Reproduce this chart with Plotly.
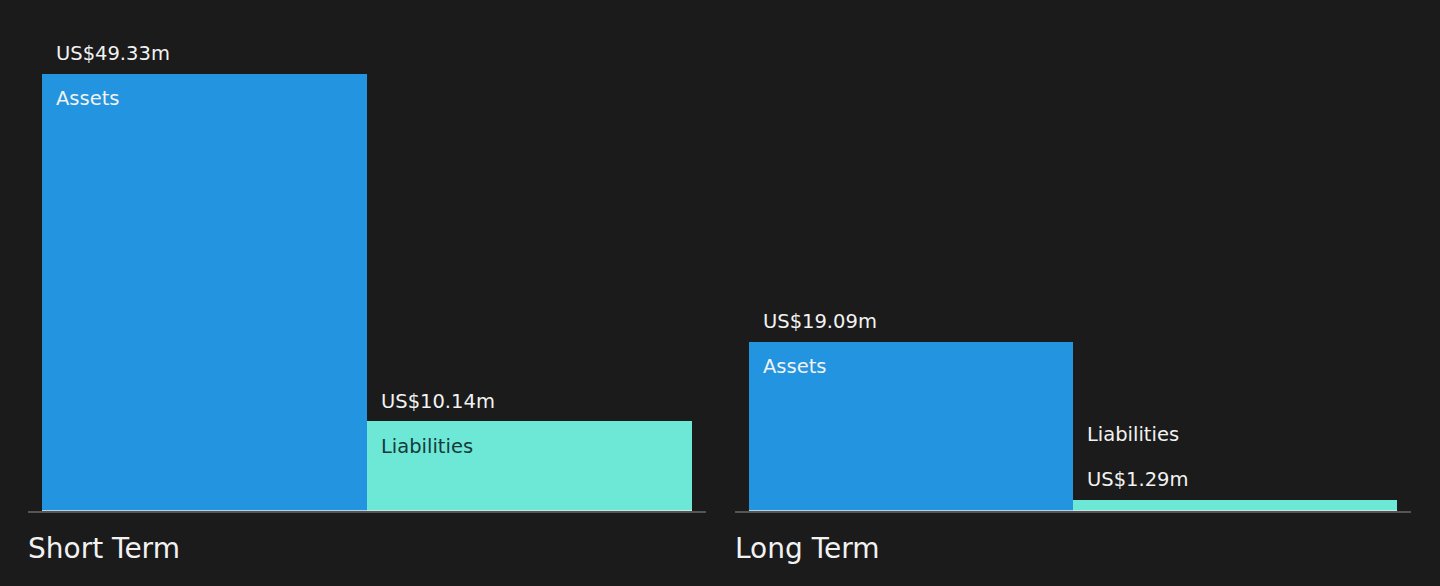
import plotly.graph_objects as go

groups = ["Short Term", "Long Term"]
series = ["Assets", "Liabilities"]
assets = [49.33, 19.09]
liabilities = [10.14, 1.29]
value_labels = [["US$49.33m", "US$10.14m"], ["US$19.09m", "US$1.29m"]]

BG = "#1b1b1b"
BLUE = "#2394df"
TEAL = "#6de8d6"
TXT = "#f2f2f2"
DARK = "#17393a"
FONT = "DejaVu Sans"

W, H = 1440, 586
MB = 75
PLOT_H = H - MB
YMAX = 57.68
PXU = PLOT_H / YMAX

domains = [[28 / W, 706 / W], [735 / W, 1411 / W]]

fig = go.Figure()
annotations = []
shapes = []
for gi, g in enumerate(groups):
    xa = "x" if gi == 0 else "x2"
    vals = [assets[gi], liabilities[gi]]
    fig.add_trace(go.Bar(
        x=[0, 1], y=vals, width=[1, 1],
        marker=dict(color=[BLUE, TEAL], line=dict(width=0)),
        xaxis=xa, yaxis="y", showlegend=False, hoverinfo="skip",
    ))
    for si, s in enumerate(series):
        v = vals[si]
        inside = v * PXU > 40
        annotations.append(dict(
            x=si - 0.5, y=v, xref=xa, yref="y", xanchor="left", yanchor="middle",
            xshift=12, yshift=20, text=value_labels[gi][si], showarrow=False,
            font=dict(family=FONT, size=19.5, color=TXT)))
        annotations.append(dict(
            x=si - 0.5, y=v, xref=xa, yref="y", xanchor="left", yanchor="middle",
            xshift=12, yshift=-25 if inside else 65, text=s, showarrow=False,
            font=dict(family=FONT, size=19.5,
                      color=(TXT if si == 0 or not inside else DARK))))
    annotations.append(dict(
        x=0, y=0, xref=f"{xa} domain", yref="paper", xanchor="left", yanchor="middle",
        xshift=-2, yshift=-37, text=g, showarrow=False,
        font=dict(family=FONT, size=28, color=TXT)))
    shapes.append(dict(type="line", xref=xa, yref="y", x0=-0.5, x1=1.5, y0=0, y1=0,
                       line=dict(color="#e8e8e8", width=1.5)))

axis_common = dict(range=[-0.543, 1.543], showgrid=False, zeroline=False,
                   showticklabels=False, showline=True, linecolor="#555555",
                   linewidth=2, fixedrange=True)
fig.update_layout(
    width=W, height=H,
    paper_bgcolor=BG, plot_bgcolor=BG,
    margin=dict(l=0, r=0, t=0, b=MB),
    bargap=0,
    xaxis=dict(domain=domains[0], anchor="y", **axis_common),
    xaxis2=dict(domain=domains[1], anchor="y", **axis_common),
    yaxis=dict(range=[0, YMAX], visible=False, fixedrange=True),
    annotations=annotations,
    shapes=shapes,
)

fig.write_html(
    "out.html",
    config={"displayModeBar": False},
    post_script="document.body.style.margin='0';document.body.style.background='#1b1b1b';",
)
